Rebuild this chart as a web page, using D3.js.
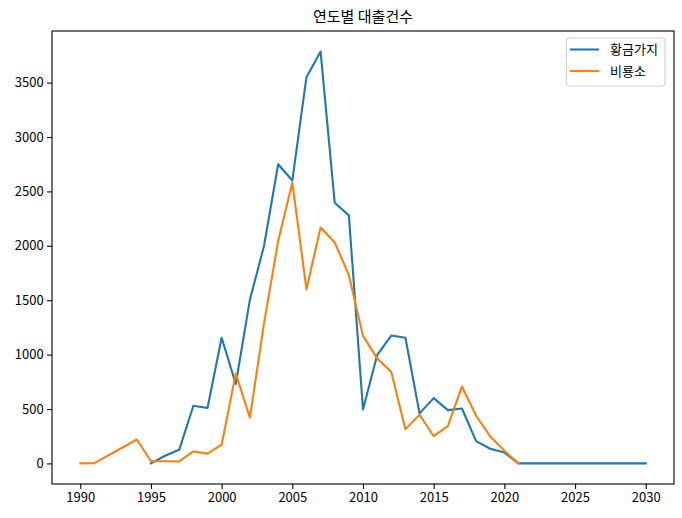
<!DOCTYPE html>
<html>
<head>
<meta charset="utf-8">
<script src="https://cdn.jsdelivr.net/npm/d3@7"></script>
<style>
  html, body { margin: 0; padding: 0; background: #fff; }
  svg { display: block; }
  text { font-family: "Noto Sans CJK KR", "Noto Sans", sans-serif; }
</style>
</head>
<body>
<svg id="chart" width="682" height="518"></svg>
<script>
// ---- data ----
const title = "연도별 대출건수";
const seriesNames = ["황금가지", "비룡소"];
const yearsA = [1995,1996,1997,1998,1999,2000,2001,2002,2003,2004,2005,2006,2007,2008,2009,2010,2011,2012,2013,2014,2015,2016,2017,2018,2019,2020,2021,2022,2023,2024,2025,2026,2027,2028,2029,2030];
const valuesA = [0,70,125,530,510,1155,730,1505,2000,2750,2600,3550,3785,2395,2280,495,995,1175,1155,460,600,490,505,205,135,100,0,0,0,0,0,0,0,0,0,0];
const yearsB = [1990,1991,1994,1995,1996,1997,1998,1999,2000,2001,2002,2003,2004,2005,2006,2007,2008,2009,2010,2011,2012,2013,2014,2015,2016,2017,2018,2019,2020,2021];
const valuesB = [0,3,220,20,20,18,110,90,172,825,420,1290,2045,2580,1600,2168,2030,1730,1172,965,840,315,447,250,343,705,438,248,116,0];
const xTicks = [1990,1995,2000,2005,2010,2015,2020,2025,2030];
const yTicks = [0,500,1000,1500,2000,2500,3000,3500];
const colors = ["#1f77b4", "#ff7f0e"];

// ---- layout ----
const svg = d3.select("#chart");
const L = 52, R = 674, T = 31, B = 484;

const allX = yearsA.concat(yearsB);
const allY = valuesA.concat(valuesB);
const xmin = d3.min(allX), xmax = d3.max(allX);
const ymin = d3.min(allY), ymax = d3.max(allY);
const xm = (xmax - xmin) * 0.05, ym = (ymax - ymin) * 0.05;

const x = d3.scaleLinear().domain([xmin - xm, xmax + xm]).range([L, R]);
const y = d3.scaleLinear().domain([ymin - ym, ymax + ym]).range([B, T]);

// lines
const series = [
  { name: seriesNames[0], pts: yearsA.map((yr, i) => [yr, valuesA[i]]) },
  { name: seriesNames[1], pts: yearsB.map((yr, i) => [yr, valuesB[i]]) }
];
const line = d3.line().x(d => x(d[0])).y(d => y(d[1]));
const plot = svg.append("g");
series.forEach((s, i) => {
  plot.append("path")
    .attr("d", line(s.pts))
    .attr("fill", "none")
    .attr("stroke", colors[i])
    .attr("stroke-width", 2.1)
    .attr("stroke-linejoin", "round")
    .attr("stroke-linecap", "square");
});

// axes
const xAxis = d3.axisBottom(x).tickValues(xTicks).tickFormat(d3.format("d")).tickSize(4.9).tickPadding(3.5);
const yAxis = d3.axisLeft(y).tickValues(yTicks).tickFormat(d3.format("d")).tickSize(4.9).tickPadding(3.5);

const gx = svg.append("g").attr("transform", `translate(0,${B})`).call(xAxis);
const gy = svg.append("g").attr("transform", `translate(${L},0)`).call(yAxis);
[gx, gy].forEach(g => {
  g.select(".domain").remove();
  g.selectAll(".tick line").attr("stroke", "#000").attr("stroke-width", 1.1);
  g.selectAll(".tick text").attr("fill", "#000").style("font-size", "13px");
});

// frame
svg.append("rect")
  .attr("x", L).attr("y", T).attr("width", R - L).attr("height", B - T)
  .attr("fill", "none").attr("stroke", "#000").attr("stroke-width", 1.1);

// title
svg.append("text")
  .attr("x", (L + R) / 2).attr("y", 22)
  .attr("text-anchor", "middle")
  .style("font-size", "15px")
  .attr("fill", "#000")
  .text(title);

// legend
const lg = svg.append("g");
lg.append("rect")
  .attr("x", 566.5).attr("y", 38).attr("width", 98.5).attr("height", 48)
  .attr("rx", 3).attr("ry", 3)
  .attr("fill", "#fff").attr("fill-opacity", 0.8)
  .attr("stroke", "#cccccc").attr("stroke-width", 1);
seriesNames.forEach((n, i) => {
  const cy = 49.5 + i * 21.5;
  lg.append("line")
    .attr("x1", 570).attr("x2", 599).attr("y1", cy).attr("y2", cy)
    .attr("stroke", colors[i]).attr("stroke-width", 2.1);
  lg.append("text")
    .attr("x", 610).attr("y", cy).attr("dy", "0.35em")
    .style("font-size", "13px").attr("fill", "#000")
    .text(n);
});
</script>
</body>
</html>
